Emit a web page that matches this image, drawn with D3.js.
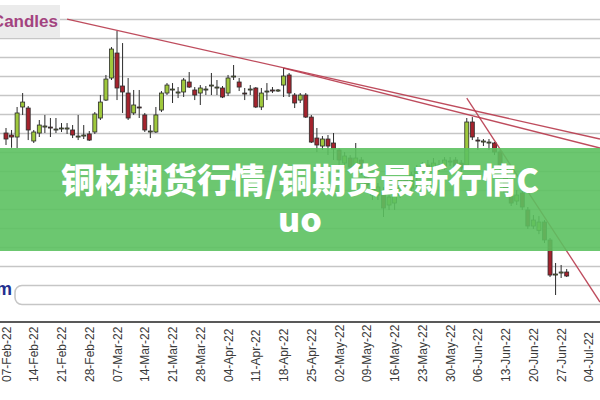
<!DOCTYPE html>
<html><head><meta charset="utf-8">
<script src="https://cdn.jsdelivr.net/npm/d3@7"></script>
<style>html,body{margin:0;padding:0;background:#fff;overflow:hidden}svg{display:block}</style>
</head><body><svg id="c" width="600" height="400"></svg>
<script>
const dates = [
"07-Feb-22","08-Feb-22","09-Feb-22","10-Feb-22","11-Feb-22","14-Feb-22","15-Feb-22","16-Feb-22","17-Feb-22","18-Feb-22","21-Feb-22","22-Feb-22","23-Feb-22","24-Feb-22","25-Feb-22","28-Feb-22",
"01-Mar-22","02-Mar-22","03-Mar-22","04-Mar-22","07-Mar-22","08-Mar-22","09-Mar-22","10-Mar-22","11-Mar-22","14-Mar-22","15-Mar-22","16-Mar-22","17-Mar-22","18-Mar-22","21-Mar-22","22-Mar-22","23-Mar-22","24-Mar-22","25-Mar-22","28-Mar-22","29-Mar-22","30-Mar-22","31-Mar-22",
"01-Apr-22","04-Apr-22","05-Apr-22","06-Apr-22","07-Apr-22","08-Apr-22","11-Apr-22","12-Apr-22","13-Apr-22","14-Apr-22","15-Apr-22","18-Apr-22","19-Apr-22","20-Apr-22","21-Apr-22","22-Apr-22","25-Apr-22","26-Apr-22","27-Apr-22","28-Apr-22","29-Apr-22",
"02-May-22","03-May-22","04-May-22","05-May-22","06-May-22","09-May-22","10-May-22","11-May-22","12-May-22","13-May-22","16-May-22","17-May-22","18-May-22","19-May-22","20-May-22","23-May-22","24-May-22","25-May-22","26-May-22","27-May-22","30-May-22","31-May-22",
"01-Jun-22","02-Jun-22","03-Jun-22","06-Jun-22","07-Jun-22","08-Jun-22","09-Jun-22","10-Jun-22","13-Jun-22","14-Jun-22","15-Jun-22","16-Jun-22","17-Jun-22","20-Jun-22","21-Jun-22","22-Jun-22","23-Jun-22","24-Jun-22","27-Jun-22","28-Jun-22"];

const open = [
9805,9784,9763,10079,10068,9721,9805,9868,9868,9837,9853,9847,9837,9763,9773,9795,
9816,9963,10152,10384,10647,10300,10226,10016,10079,9995,9816,9816,10047,10226,10258,10226,10237,10342,10258,10226,10258,10300,10279,
10279,10226,10395,10342,10226,10258,10279,10079,10237,10258,10247,10310,10416,10205,10152,10205,9973,9752,9668,9742,9700,
9626,9489,9542,9447,9521,9395,9247,9152,9184,9047,9068,9152,9310,9226,9342,9395,9468,9416,9468,9437,9500,9521,
9489,9468,9921,9731,9710,9700,9700,9605,9437,9142,9089,9173,8995,8826,8780,8868,8679,8310,8331,8342];

const high = [
9858,9837,10079,10226,10089,9837,9942,9995,9963,9963,9910,9910,9889,9995,9889,9826,
10026,10205,10416,10710,10879,10752,10384,10258,10258,10016,9889,10079,10247,10331,10331,10289,10384,10447,10289,10310,10300,10437,10363,
10300,10416,10521,10384,10279,10310,10289,10279,10331,10289,10268,10489,10437,10226,10226,10226,9995,9858,9773,9784,9805,
9647,9605,9573,9700,9552,9416,9289,9279,9237,9152,9173,9331,9342,9395,9468,9500,9521,9542,9521,9552,9552,9552,
9521,9963,9973,9763,9742,9742,9710,9626,9468,9184,9205,9205,9026,8942,8931,8889,8700,8437,8416,8374];

const low = [
9679,9650,9647,9995,9731,9700,9763,9805,9763,9805,9816,9795,9752,9731,9742,9721,
9795,9942,10142,10363,10152,10016,9942,9995,9963,9816,9752,9805,10026,10205,10121,10173,10184,10279,10152,10100,10205,10205,10205,
10173,10195,10363,10247,10152,10205,10068,10047,10152,10226,10237,10184,10184,10068,10121,9963,9700,9605,9626,9573,9521,
9468,9437,9395,9384,9363,9226,9100,9100,8921,8995,8995,9121,9173,9184,9205,9363,9352,9384,9395,9416,9458,9416,
9395,9447,9731,9626,9668,9626,9573,9416,9152,9037,9047,8995,8795,8795,8740,8647,8289,8100,8279,8289];

const close = [
9742,9763,10016,10131,9837,9816,9889,9879,9858,9847,9858,9858,9784,9773,9784,9731,
10005,10131,10373,10689,10279,10237,9963,10100,10073,9837,9826,9995,10226,10310,10268,10237,10363,10289,10205,10279,10268,10310,10289,
10184,10384,10405,10289,10216,10268,10079,10226,10247,10247,10258,10405,10226,10121,10205,9973,9710,9679,9742,9668,9637,
9521,9563,9447,9542,9416,9258,9152,9237,9016,9131,9152,9310,9205,9363,9437,9468,9395,9489,9437,9521,9510,9447,
9437,9921,9763,9721,9721,9710,9605,9468,9184,9068,9152,9026,8826,8889,8868,8679,8310,8321,8342,8300];

const tickLabels = ["07-Feb-22","14-Feb-22","21-Feb-22","28-Feb-22","07-Mar-22","14-Mar-22","21-Mar-22","28-Mar-22","04-Apr-22","11-Apr-22","18-Apr-22","25-Apr-22","02-May-22","09-May-22","16-May-22","23-May-22","30-May-22","06-Jun-22","13-Jun-22","20-Jun-22","27-Jun-22","04-Jul-22"];

const gridPrices = [11000,10800,10600,10400,10200,10000,9800,9600,9400,9200,9000,8800,8600,8400];
const boxPrices = [8200, 8000];

const trendFrom = [["22-Feb-22",11005],["18-Apr-22",10489],["02-Jun-22",10173]];
const trendTo   = [["06-Jul-22",9742],["06-Jul-22",9647],["06-Jul-22",8026]];

const titleLines = ["铜材期货行情/铜期货最新行情C","uo"];
const cornerLabel = "Candles";
const footLabel = "m";

// ---------------------------------------------------------
const parse = d3.timeParse("%d-%b-%y");
const t0 = parse(dates[0]);
function idxOf(s){
  const d = parse(s);
  const days = d3.timeDay.count(t0, d);
  const w = Math.floor(days/7), r = days%7;
  return w*5 + Math.min(r,5);
}
const svg = d3.select("#c");
const W = 600, H = 400, axisY = 322;
const x = d3.scaleLinear().domain([0,107]).range([6,600]);
const y = d3.scaleLinear().domain([8000,11000]).range([304.5,19.5]);

// grid
svg.append("g").selectAll("line").data(gridPrices).join("line")
  .attr("x1",0).attr("x2",W)
  .attr("y1",d=>y(d)).attr("y2",d=>y(d))
  .attr("stroke","#c6c6c6").attr("stroke-width",1.6);

// lower rounded box
svg.append("rect").attr("x",15).attr("y",y(boxPrices[0])).attr("width",640)
  .attr("height",y(boxPrices[1])-y(boxPrices[0])).attr("rx",7)
  .attr("fill","#fff").attr("stroke","#c6c6c6").attr("stroke-width",1.6);

// candles
const data = dates.map((d,i)=>({i:idxOf(d),o:open[i],h:high[i],l:low[i],c:close[i]}));
const cg = svg.append("g");
const bw = 4;
cg.selectAll("line").data(data).join("line")
  .attr("x1",d=>x(d.i)).attr("x2",d=>x(d.i))
  .attr("y1",d=>y(d.h)).attr("y2",d=>y(d.l))
  .attr("stroke","#2b2b2b").attr("stroke-width",1);
cg.selectAll("rect").data(data).join("rect")
  .attr("x",d=>x(d.i)-bw/2).attr("width",bw)
  .attr("y",d=>y(Math.max(d.o,d.c)))
  .attr("height",d=>Math.max(1,Math.abs(y(d.o)-y(d.c))))
  .attr("fill",d=>d.c>=d.o?"#9fc83c":"#a4232d")
  .attr("stroke","#2b2b2b").attr("stroke-width",0.8);

// trend lines
svg.append("g").selectAll("line").data(trendFrom.map((f,k)=>[f,trendTo[k]])).join("line")
  .attr("x1",d=>x(idxOf(d[0][0]))).attr("y1",d=>y(d[0][1]))
  .attr("x2",d=>x(idxOf(d[1][0]))).attr("y2",d=>y(d[1][1]))
  .attr("stroke","#b8394c").attr("stroke-width",1.3).attr("opacity",0.9);

// corner label
svg.append("rect").attr("x",0).attr("y",5).attr("width",60).attr("height",33).attr("fill","#ebebeb");
svg.append("text").attr("x",58).attr("y",27).attr("text-anchor","end")
  .attr("font-family","Liberation Sans, Arial, sans-serif").attr("font-weight","bold")
  .attr("font-size",17).attr("fill","#a3437f").text(cornerLabel);

// foot label
svg.append("text").attr("x",12).attr("y",295).attr("text-anchor","end")
  .attr("font-family","Liberation Sans, Arial, sans-serif").attr("font-weight","bold")
  .attr("font-size",18).attr("fill","#22308f").text(footLabel);

// x axis
const ax = svg.append("g").attr("transform",`translate(0,${axisY})`)
  .call(d3.axisBottom(x).tickValues(tickLabels.map(idxOf)).tickFormat((d,i)=>tickLabels[i]).tickSize(0).tickSizeOuter(0));
ax.select(".domain").attr("stroke","#222").attr("stroke-width",1.6).attr("d","M-5,0H605");
ax.selectAll("text")
  .attr("transform","rotate(-90)")
  .attr("x",-60).attr("y",4).attr("dy",0)
  .attr("text-anchor","start")
  .attr("font-family","Liberation Sans, Arial, sans-serif")
  .attr("font-size",12).attr("fill","#3a3a3a");

// banner
svg.append("rect").attr("x",0).attr("y",148).attr("width",W).attr("height",103)
  .attr("fill","#5cc160").attr("opacity",0.9);
const title = svg.append("text").attr("text-anchor","middle")
  .attr("font-family","'Noto Sans CJK SC', 'Noto Sans', sans-serif")
  .attr("font-weight",900).attr("font-size",34).attr("fill","#fff");
title.selectAll("tspan").data(titleLines).join("tspan")
  .attr("x",300).attr("y",(d,i)=>193+i*39).text(d=>d);
</script></body></html>
